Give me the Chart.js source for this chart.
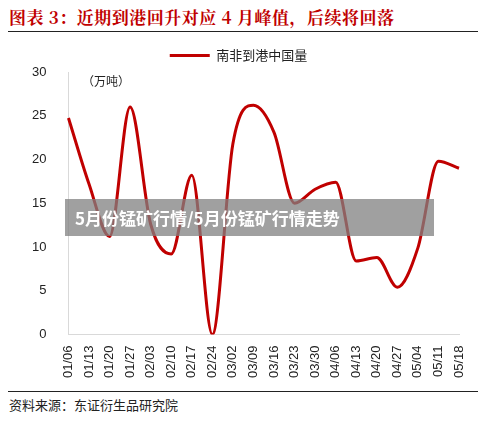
<!DOCTYPE html>
<html><head><meta charset="utf-8">
<script src="https://cdn.jsdelivr.net/npm/chart.js@4"></script>
<style>
body{margin:0;width:500px;height:436px;background:#fff;position:relative;overflow:hidden;font-family:"Noto Sans CJK SC",sans-serif}
#t{position:absolute;left:9px;top:4px;font-size:17px;font-weight:bold;color:#c00000;font-family:"Noto Serif CJK SC","Noto Sans CJK SC",serif;letter-spacing:0.5px}
#l1{position:absolute;left:8px;top:31px;width:470px;height:1px;background:#222}
#l2{position:absolute;left:8px;top:391px;width:470px;height:1px;background:#222}
#s{position:absolute;left:9px;top:395px;font-size:13px;color:#222}
#u{position:absolute;left:82px;top:72px;font-size:12px;color:#222}
#c{position:absolute;left:0;top:33px}
#w{position:absolute;left:65px;top:199px;width:369px;height:37px;background:rgba(128,128,128,0.75);color:#fff;font-weight:bold;font-size:17px;line-height:37px;padding-left:10px;box-sizing:border-box}
</style></head><body>
<div id="t">图表 3：近期到港回升对应 4 月峰值，后续将回落</div>
<div id="l1"></div>
<div id="c"><canvas id="cv" width="500" height="352" style="width:500px;height:352px"></canvas></div>
<div id="u">（万吨）</div>
<div id="l2"></div>
<div id="s">资料来源：东证衍生品研究院</div>
<div id="w">5月份锰矿行情/5月份锰矿行情走势</div>
<script>
const categories=["01/06","01/13","01/20","01/27","02/03","02/10","02/17","02/24","03/02","03/09","03/16","03/23","03/30","04/06","04/13","04/20","04/27","05/04","05/11","05/18"];
const seriesName="南非到港中国量";
const values=[24.75,17.2,11.2,26,12.6,9.2,18.2,0,21.8,26.2,23.1,15,16.6,17.4,8.4,8.8,5.4,9.9,19.8,19];
const yTicks=[0,5,10,15,20,25,30];
new Chart(document.getElementById('cv'),{type:'line',
data:{labels:categories,datasets:[{label:seriesName,data:values,borderColor:'#c00000',borderWidth:3,pointRadius:0,tension:0.45,cubicInterpolationMode:'monotone'}]},
options:{responsive:false,animation:false,
layout:{padding:{left:18,right:41,top:4,bottom:4}},
plugins:{legend:{position:'top',labels:{boxWidth:40,boxHeight:0,font:{size:13,family:'Noto Sans CJK SC'},color:'#222',padding:12,
generateLabels:c=>[{text:seriesName,strokeStyle:'#c00000',lineWidth:3,fillStyle:'#c00000',fontColor:'#222'}]}}},
scales:{x:{offset:false,grid:{display:false,drawTicks:true},border:{color:'#d9d9d9'},ticks:{maxRotation:90,minRotation:90,autoSkip:false,color:'#222',font:{size:13}}},
y:{min:0,max:30,afterBuildTicks:a=>{a.ticks=yTicks.map(v=>({value:v}))},grid:{display:false},border:{color:'#d9d9d9'},ticks:{color:'#222',font:{size:13},padding:14}}}}});
</script></body></html>
